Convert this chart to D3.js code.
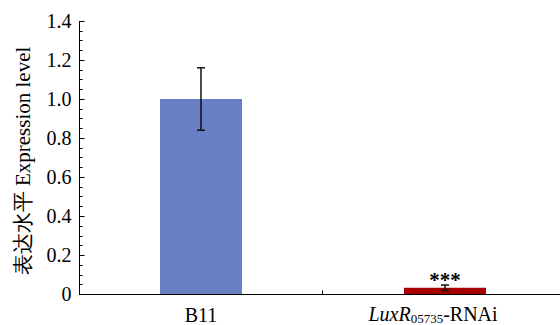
<!DOCTYPE html>
<html>
<head>
<meta charset="utf-8">
<script src="https://cdn.jsdelivr.net/npm/d3@7"></script>
<style>
  body { margin: 0; background: #fff; }
</style>
</head>
<body>
<svg id="chart" width="560" height="325" font-family="'Liberation Serif', 'Times New Roman', 'DejaVu Serif', serif"></svg>
<script>
// Data
const categories = ['B11', 'LuxR05735-RNAi']
const values = [1.0, 0.032]
const errors = [0.16, 0.014]
const barColors = ['#6a80c4', '#a80000']
const yTicks = [0, 0.2, 0.4, 0.6, 0.8, 1.0, 1.2, 1.4]
const yMinorTicks = d3.range(0, 1.4001, 0.05)

const svg = d3.select('#chart')

// Scales
const x = d3.scaleBand()
  .domain(categories)
  .range([79, 567])
  .paddingInner(0.664)
  .paddingOuter(0.332)

const y = d3.scaleLinear()
  .domain([0, 1.4])
  .range([294, 21])

// Bars
svg.selectAll('rect.bar')
  .data(categories)
  .join('rect')
  .attr('class', 'bar')
  .attr('x', d => x(d))
  .attr('width', x.bandwidth())
  .attr('y', (d, i) => y(values[i]))
  .attr('height', (d, i) => y(0) - y(values[i]))
  .attr('fill', (d, i) => barColors[i])

// Error bars
const cap = 4
const err = svg.append('g').attr('stroke', '#111').attr('stroke-width', 1.5)
categories.forEach((c, i) => {
  const cx = x(c) + x.bandwidth() / 2
  const top = y(values[i] + errors[i])
  const bot = y(values[i] - errors[i])
  err.append('line').attr('x1', cx).attr('x2', cx).attr('y1', top).attr('y2', bot)
  err.append('line').attr('x1', cx - cap).attr('x2', cx + cap).attr('y1', top).attr('y2', top)
  err.append('line').attr('x1', cx - cap).attr('x2', cx + cap).attr('y1', bot).attr('y2', bot)
})

// Significance mark
svg.append('text')
  .attr('x', x(categories[1]) + x.bandwidth() / 2)
  .attr('y', y(values[1] + errors[1]) + 2)
  .attr('text-anchor', 'middle')
  .attr('font-size', 21)
  .attr('font-weight', 'bold')
  .text('***')

// Y axis: minor ticks, then major ticks with labels
const yAxis = svg.append('g').attr('transform', 'translate(79.5,0)')
yAxis.append('line')
  .attr('y1', y(1.4)).attr('y2', y(0))
  .attr('stroke', '#000')
yAxis.selectAll('line.minor')
  .data(yMinorTicks)
  .join('line')
  .attr('class', 'minor')
  .attr('x1', 0).attr('x2', 3)
  .attr('y1', d => Math.round(y(d)) + 0.5)
  .attr('y2', d => Math.round(y(d)) + 0.5)
  .attr('stroke', '#000')
yAxis.selectAll('line.major')
  .data(yTicks)
  .join('line')
  .attr('class', 'major')
  .attr('x1', 0).attr('x2', 5)
  .attr('y1', d => Math.round(y(d)) + 0.5)
  .attr('y2', d => Math.round(y(d)) + 0.5)
  .attr('stroke', '#000')
yAxis.selectAll('text')
  .data(yTicks)
  .join('text')
  .attr('x', -8)
  .attr('y', d => y(d))
  .attr('dy', '0.35em')
  .attr('text-anchor', 'end')
  .attr('font-size', 20)
  .text(d => d === 0 ? '0' : d3.format('.1f')(d))

// X axis
const xAxis = svg.append('g').attr('transform', `translate(0,${y(0) + 0.5})`)
xAxis.append('line')
  .attr('x1', 79).attr('x2', 567)
  .attr('stroke', '#000')
xAxis.append('line')
  .attr('x1', x.step() + 79 - 0.5).attr('x2', x.step() + 79 - 0.5)
  .attr('y1', 0).attr('y2', -4)
  .attr('stroke', '#000')

// Category labels
xAxis.append('text')
  .attr('x', x(categories[0]) + x.bandwidth() / 2)
  .attr('y', 27)
  .attr('text-anchor', 'middle')
  .attr('font-size', 20)
  .text(categories[0])

const lbl = xAxis.append('text')
  .attr('x', x(categories[1]) + x.bandwidth() / 2 - 12)
  .attr('y', 26)
  .attr('text-anchor', 'middle')
  .attr('font-size', 20)
lbl.append('tspan').attr('font-style', 'italic').text('LuxR')
lbl.append('tspan').attr('font-size', 13).attr('dy', 2).text('05735')
lbl.append('tspan').attr('dy', -2).text('-RNAi')

// Y axis title
svg.append('text')
  .attr('transform', 'translate(30,161) rotate(-90)')
  .attr('text-anchor', 'middle')
  .attr('font-size', 21)
  .text('表达水平 Expression level')
</script>
</body>
</html>
